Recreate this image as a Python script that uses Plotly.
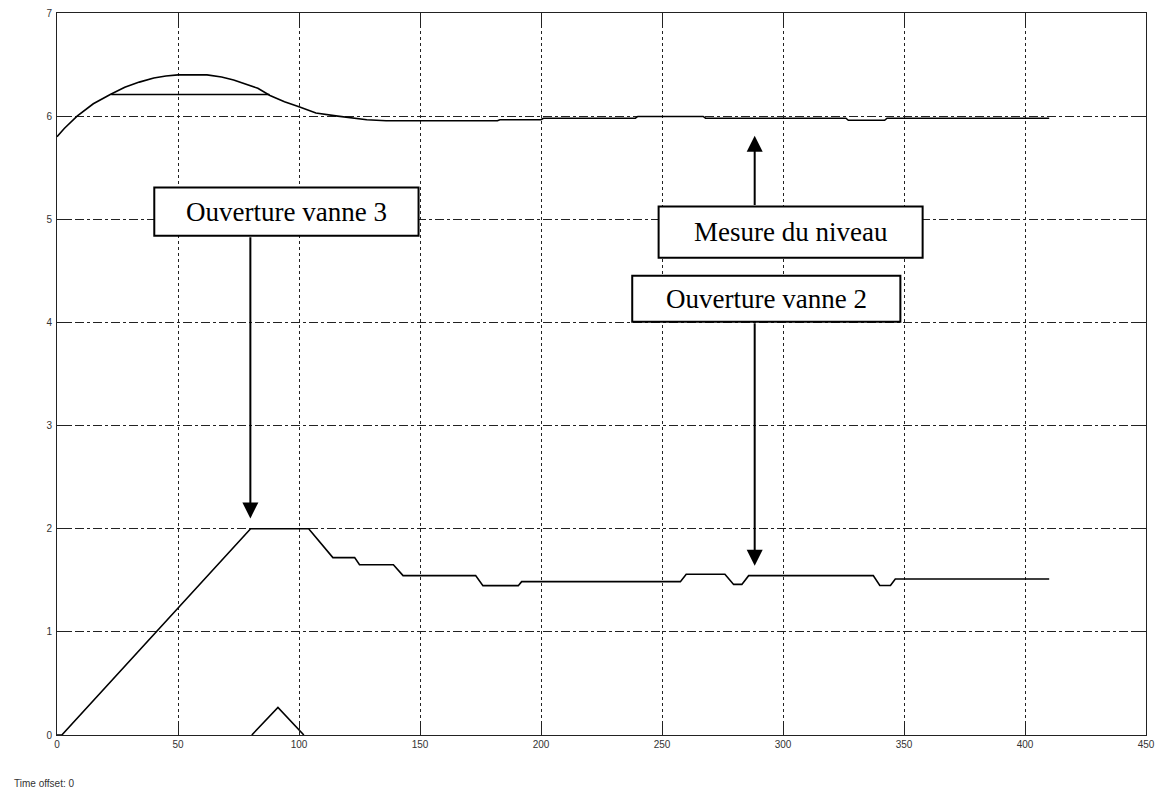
import plotly.graph_objects as go

# Mesure du niveau (upper curve)
niveau_t = [0, 3, 8.3, 15, 22, 28, 34, 40, 45, 50, 62, 68, 73, 78, 83, 88, 94, 100, 107, 116,
            122, 128, 136, 182, 183, 200, 201, 239, 240, 267, 268, 326, 327, 342, 343, 410]
niveau_y = [5.80, 5.88, 6.00, 6.12, 6.21, 6.28, 6.33, 6.37, 6.39, 6.40, 6.40, 6.38, 6.35, 6.31,
            6.27, 6.20, 6.14, 6.09, 6.03, 6.00, 5.98, 5.965, 5.955, 5.955, 5.965, 5.965, 5.98,
            5.98, 5.997, 5.997, 5.98, 5.98, 5.96, 5.96, 5.98, 5.98]

# horizontal segment at 6.2
palier_t = [22.4, 87.8]
palier_y = [6.21, 6.21]

# Ouverture vannes (lower curve)
vanne_t = [0, 2, 80, 104, 114, 123, 125, 139, 143, 173, 176, 190.6, 192, 257.6, 260, 276,
           279.6, 283, 285.8, 337.3, 340, 344.4, 346.4, 410]
vanne_y = [0, 0, 2.0, 2.0, 1.72, 1.72, 1.65, 1.65, 1.545, 1.545, 1.448, 1.448, 1.487, 1.487,
           1.558, 1.558, 1.46, 1.46, 1.545, 1.545, 1.45, 1.45, 1.513, 1.513]

# small triangle near the bottom
petit_t = [80.5, 91.3, 102]
petit_y = [0, 0.268, 0]

x_ticks = [0, 50, 100, 150, 200, 250, 300, 350, 400, 450]
y_ticks = [0, 1, 2, 3, 4, 5, 6, 7]

fig = go.Figure()
line_style = dict(color="black", width=1.6)
for tx, ty in [(niveau_t, niveau_y), (palier_t, palier_y), (vanne_t, vanne_y), (petit_t, petit_y)]:
    fig.add_trace(go.Scatter(x=tx, y=ty, mode="lines", line=line_style, showlegend=False,
                             hoverinfo="skip"))

axis_common = dict(showline=True, linecolor="#222", linewidth=1, mirror="ticks",
                   ticks="inside", ticklen=13, tickcolor="#222", tickwidth=1,
                   showgrid=True, gridcolor="#222", gridwidth=1, zeroline=False,
                   automargin=False,
                   tickfont=dict(family="Liberation Sans, Arial", size=10, color="#333"))

fig.update_xaxes(range=[0, 450], tickvals=x_ticks, griddash="dot", **axis_common)
fig.update_yaxes(range=[0, 7], tickvals=y_ticks, griddash="dashdot", ticklabelstandoff=2,
                 **axis_common)

boxes = [
    ("Ouverture vanne 3", 40.2, 149.4, 4.840, 5.308),
    ("Mesure du niveau", 248.6, 357.7, 4.627, 5.124),
    ("Ouverture vanne 2", 237.7, 348.5, 4.006, 4.452),
]
for text, x0, x1, y0, y1 in boxes:
    fig.add_shape(type="rect", x0=x0, x1=x1, y0=y0, y1=y1, xref="x", yref="y",
                  line=dict(color="black", width=2), fillcolor="white", layer="above")
    fig.add_annotation(x=(x0 + x1) / 2, y=(y0 + y1) / 2, xref="x", yref="y", text=text,
                       showarrow=False,
                       font=dict(family="Liberation Serif, Times New Roman", size=27, color="black"))

arrows = [
    (79.9, 2.10, 79.9, 4.840),
    (288.3, 5.81, 288.3, 5.124),
    (288.3, 1.64, 288.3, 4.006),
]
for xh, yh, xt, yt in arrows:
    fig.add_annotation(x=xh, y=yh, ax=xt, ay=yt, xref="x", yref="y", axref="x", ayref="y",
                       text="", showarrow=True, arrowhead=2, arrowsize=1.6, arrowwidth=2,
                       arrowcolor="black", standoff=0)

plot_w = 1158 - 57 - 12
plot_h = 791 - 13 - 56
fig.add_annotation(x=(12 - 57) / plot_w, y=(791 - 56 - 783) / plot_h, xref="paper", yref="paper",
                   text="Time offset: 0", showarrow=False, xanchor="left", yanchor="middle",
                   font=dict(family="Liberation Sans, Arial", size=10, color="#333"))

fig.update_layout(
    width=1158, height=791,
    margin=dict(l=57, r=12, t=13, b=56, autoexpand=False),
    plot_bgcolor="white", paper_bgcolor="white",
)

fig.write_html("out.html", config={"displayModeBar": False},
               post_script="document.body.style.margin='0px';document.body.style.overflow='hidden';")
